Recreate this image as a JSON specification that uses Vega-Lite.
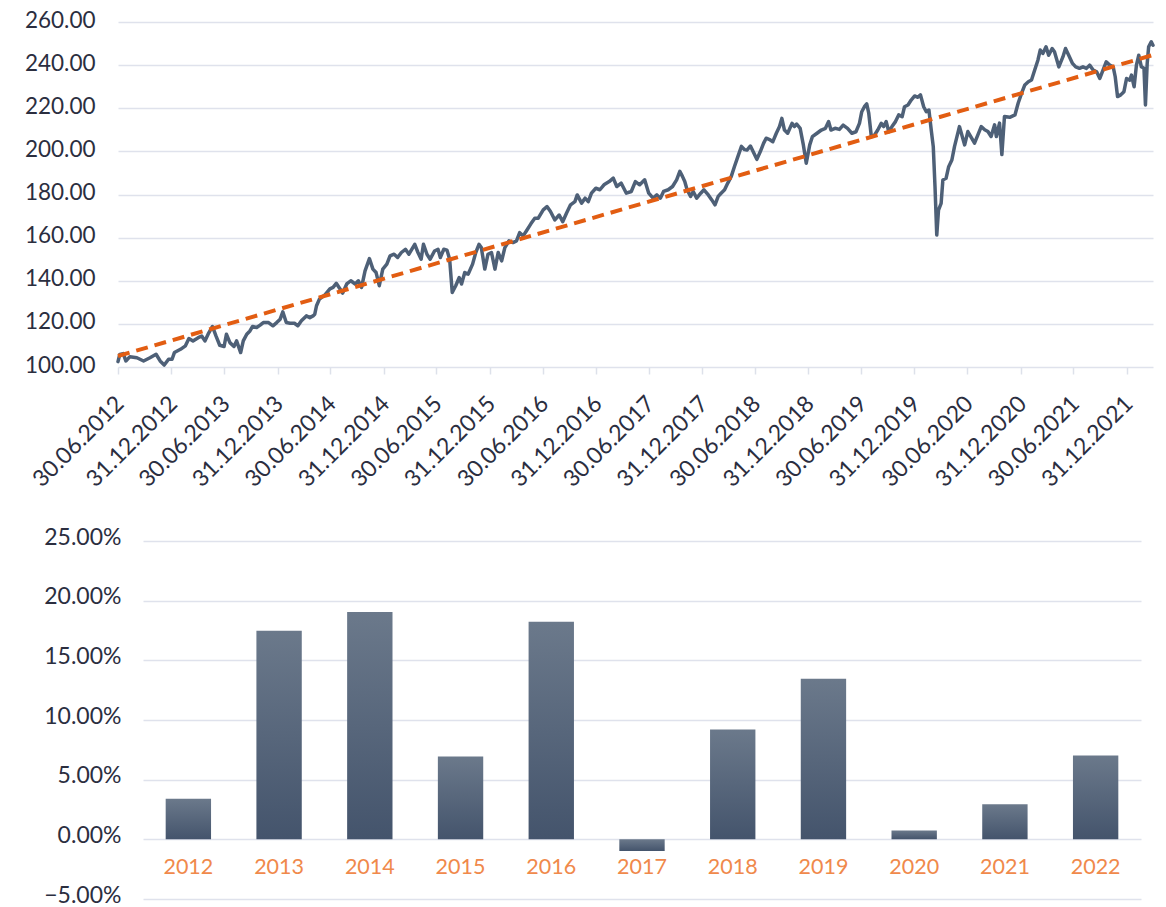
{
  "$schema": "https://vega.github.io/schema/vega-lite/v6.json",
  "background": "white",
  "padding": {"left": 7, "top": 9, "right": 13, "bottom": 5},
  "config": {"view": {"stroke": null}, "font": "Lato"},
  "spacing": 34,
  "datasets": {
    "series": [
      {"d":"2012-06-30T00:00:00","v":102.5},{"d":"2012-07-06T00:00:00","v":105.8},{"d":"2012-07-18T00:00:00","v":106.2},{"d":"2012-07-27T00:00:00","v":102.8},{"d":"2012-08-10T00:00:00","v":104.8},{"d":"2012-09-03T00:00:00","v":104.3},{"d":"2012-09-26T00:00:00","v":102.8},{"d":"2012-10-18T00:00:00","v":104.3},{"d":"2012-11-08T00:00:00","v":105.9},{"d":"2012-11-22T00:00:00","v":102.8},{"d":"2012-12-06T00:00:00","v":100.9},{"d":"2012-12-21T00:00:00","v":103.6},
      {"d":"2013-01-02T00:00:00","v":103.6},{"d":"2013-01-10T00:00:00","v":106.7},{"d":"2013-01-31T00:00:00","v":108.2},{"d":"2013-02-17T00:00:00","v":109.8},{"d":"2013-03-01T00:00:00","v":113.2},{"d":"2013-03-15T00:00:00","v":112.1},{"d":"2013-04-02T00:00:00","v":113.6},{"d":"2013-04-14T00:00:00","v":114.4},{"d":"2013-04-25T00:00:00","v":112.1},{"d":"2013-05-06T00:00:00","v":115.2},{"d":"2013-05-21T00:00:00","v":118.8},{"d":"2013-06-02T00:00:00","v":114.4},{"d":"2013-06-15T00:00:00","v":110.1},{"d":"2013-06-30T00:00:00","v":109.5},{"d":"2013-07-08T00:00:00","v":115.2},{"d":"2013-07-20T00:00:00","v":111.3},{"d":"2013-08-03T00:00:00","v":109.5},{"d":"2013-08-12T00:00:00","v":112.1},{"d":"2013-08-26T00:00:00","v":106.7},{"d":"2013-09-04T00:00:00","v":112.1},{"d":"2013-09-16T00:00:00","v":115.2},{"d":"2013-09-27T00:00:00","v":116.7},{"d":"2013-10-06T00:00:00","v":118.8},{"d":"2013-10-20T00:00:00","v":118.3},{"d":"2013-11-01T00:00:00","v":119.4},{"d":"2013-11-12T00:00:00","v":120.6},{"d":"2013-11-30T00:00:00","v":120.6},{"d":"2013-12-15T00:00:00","v":119.1},{"d":"2013-12-28T00:00:00","v":120.6},
      {"d":"2014-01-09T00:00:00","v":122.2},{"d":"2014-01-18T00:00:00","v":125.6},{"d":"2014-01-30T00:00:00","v":120.6},{"d":"2014-02-12T00:00:00","v":120.3},{"d":"2014-02-27T00:00:00","v":120.3},{"d":"2014-03-11T00:00:00","v":119.1},{"d":"2014-03-23T00:00:00","v":121.4},{"d":"2014-04-09T00:00:00","v":123.7},{"d":"2014-04-21T00:00:00","v":122.9},{"d":"2014-05-02T00:00:00","v":123.7},{"d":"2014-05-08T00:00:00","v":124.5},{"d":"2014-05-14T00:00:00","v":128.4},{"d":"2014-05-24T00:00:00","v":131.5},{"d":"2014-06-12T00:00:00","v":133.5},{"d":"2014-06-29T00:00:00","v":136.2},{"d":"2014-07-10T00:00:00","v":136.9},{"d":"2014-07-21T00:00:00","v":138.8},{"d":"2014-08-03T00:00:00","v":136.2},{"d":"2014-08-12T00:00:00","v":134.3},{"d":"2014-08-26T00:00:00","v":138.5},{"d":"2014-09-09T00:00:00","v":140},{"d":"2014-09-24T00:00:00","v":138.5},{"d":"2014-10-05T00:00:00","v":140},{"d":"2014-10-16T00:00:00","v":136.9},{"d":"2014-10-28T00:00:00","v":144.6},{"d":"2014-11-12T00:00:00","v":150.3},{"d":"2014-11-24T00:00:00","v":145.4},{"d":"2014-12-05T00:00:00","v":143.8},{"d":"2014-12-16T00:00:00","v":137.7},{"d":"2014-12-28T00:00:00","v":145.4},
      {"d":"2015-01-11T00:00:00","v":147.7},{"d":"2015-01-22T00:00:00","v":151.5},{"d":"2015-02-05T00:00:00","v":152.3},{"d":"2015-02-17T00:00:00","v":150.8},{"d":"2015-03-02T00:00:00","v":153.1},{"d":"2015-03-16T00:00:00","v":154.6},{"d":"2015-03-28T00:00:00","v":152.3},{"d":"2015-04-17T00:00:00","v":156.9},{"d":"2015-04-28T00:00:00","v":153.1},{"d":"2015-05-09T00:00:00","v":150},{"d":"2015-05-17T00:00:00","v":156.9},{"d":"2015-05-29T00:00:00","v":152.3},{"d":"2015-06-09T00:00:00","v":150},{"d":"2015-06-24T00:00:00","v":153.8},{"d":"2015-07-06T00:00:00","v":154.6},{"d":"2015-07-14T00:00:00","v":150.8},{"d":"2015-07-26T00:00:00","v":154.6},{"d":"2015-08-06T00:00:00","v":154.2},{"d":"2015-08-15T00:00:00","v":150},{"d":"2015-08-24T00:00:00","v":134.6},{"d":"2015-09-05T00:00:00","v":137.7},{"d":"2015-09-17T00:00:00","v":141.5},{"d":"2015-09-25T00:00:00","v":138.5},{"d":"2015-10-06T00:00:00","v":143.8},{"d":"2015-10-18T00:00:00","v":143.1},{"d":"2015-11-02T00:00:00","v":147.7},{"d":"2015-11-13T00:00:00","v":153.1},{"d":"2015-11-24T00:00:00","v":156.9},{"d":"2015-12-02T00:00:00","v":155.4},{"d":"2015-12-14T00:00:00","v":145.4},{"d":"2015-12-25T00:00:00","v":152.3},
      {"d":"2016-01-06T00:00:00","v":153.1},{"d":"2016-01-18T00:00:00","v":145.4},{"d":"2016-01-29T00:00:00","v":153.1},{"d":"2016-02-10T00:00:00","v":149.2},{"d":"2016-02-21T00:00:00","v":155.4},{"d":"2016-03-06T00:00:00","v":158.5},{"d":"2016-03-20T00:00:00","v":157.7},{"d":"2016-04-01T00:00:00","v":158.5},{"d":"2016-04-12T00:00:00","v":162.3},{"d":"2016-04-24T00:00:00","v":160.8},{"d":"2016-05-05T00:00:00","v":163.1},{"d":"2016-05-21T00:00:00","v":166.5},{"d":"2016-06-03T00:00:00","v":169},{"d":"2016-06-15T00:00:00","v":169},{"d":"2016-07-02T00:00:00","v":172.9},{"d":"2016-07-15T00:00:00","v":174.4},{"d":"2016-07-27T00:00:00","v":172.1},{"d":"2016-08-11T00:00:00","v":168.2},{"d":"2016-08-26T00:00:00","v":170.5},{"d":"2016-09-07T00:00:00","v":167.4},{"d":"2016-09-20T00:00:00","v":171.3},{"d":"2016-10-04T00:00:00","v":175.2},{"d":"2016-10-19T00:00:00","v":176.7},{"d":"2016-10-27T00:00:00","v":179.8},{"d":"2016-11-11T00:00:00","v":176},{"d":"2016-11-23T00:00:00","v":178.3},{"d":"2016-12-04T00:00:00","v":176.7},{"d":"2016-12-15T00:00:00","v":180.6},{"d":"2016-12-30T00:00:00","v":182.9},
      {"d":"2017-01-13T00:00:00","v":182.2},{"d":"2017-01-27T00:00:00","v":184.5},{"d":"2017-02-14T00:00:00","v":186},{"d":"2017-02-28T00:00:00","v":187.6},{"d":"2017-03-12T00:00:00","v":183.7},{"d":"2017-03-27T00:00:00","v":185.3},{"d":"2017-04-14T00:00:00","v":180.6},{"d":"2017-05-01T00:00:00","v":181.4},{"d":"2017-05-15T00:00:00","v":186},{"d":"2017-05-30T00:00:00","v":184.5},{"d":"2017-06-16T00:00:00","v":186.8},{"d":"2017-06-30T00:00:00","v":180.6},{"d":"2017-07-15T00:00:00","v":178.3},{"d":"2017-07-28T00:00:00","v":179.8},{"d":"2017-08-09T00:00:00","v":178.3},{"d":"2017-08-20T00:00:00","v":181.4},{"d":"2017-09-05T00:00:00","v":182.2},{"d":"2017-09-20T00:00:00","v":183.7},{"d":"2017-10-04T00:00:00","v":186.8},{"d":"2017-10-15T00:00:00","v":190.7},{"d":"2017-10-24T00:00:00","v":188.4},{"d":"2017-11-01T00:00:00","v":186},{"d":"2017-11-09T00:00:00","v":182.2},{"d":"2017-11-21T00:00:00","v":179.1},{"d":"2017-11-30T00:00:00","v":181.4},{"d":"2017-12-12T00:00:00","v":178.3},{"d":"2017-12-26T00:00:00","v":180.6},
      {"d":"2018-01-06T00:00:00","v":182.2},{"d":"2018-01-21T00:00:00","v":179.8},{"d":"2018-02-02T00:00:00","v":177.5},{"d":"2018-02-13T00:00:00","v":175.2},{"d":"2018-02-24T00:00:00","v":179.1},{"d":"2018-03-06T00:00:00","v":180.6},{"d":"2018-03-18T00:00:00","v":182.2},{"d":"2018-03-29T00:00:00","v":185.3},{"d":"2018-04-10T00:00:00","v":188.4},{"d":"2018-04-21T00:00:00","v":193},{"d":"2018-05-03T00:00:00","v":197.7},{"d":"2018-05-15T00:00:00","v":202.3},{"d":"2018-05-26T00:00:00","v":200.8},{"d":"2018-06-03T00:00:00","v":200.6},{"d":"2018-06-15T00:00:00","v":202.5},{"d":"2018-06-27T00:00:00","v":199.1},{"d":"2018-07-07T00:00:00","v":196.3},{"d":"2018-07-19T00:00:00","v":199.9},{"d":"2018-07-30T00:00:00","v":203.7},{"d":"2018-08-08T00:00:00","v":206.1},{"d":"2018-08-22T00:00:00","v":205.3},{"d":"2018-08-31T00:00:00","v":204.5},{"d":"2018-09-12T00:00:00","v":208.4},{"d":"2018-09-23T00:00:00","v":211.5},{"d":"2018-10-01T00:00:00","v":215.3},{"d":"2018-10-10T00:00:00","v":209.9},{"d":"2018-10-21T00:00:00","v":208.4},{"d":"2018-11-05T00:00:00","v":213},{"d":"2018-11-13T00:00:00","v":211.5},{"d":"2018-11-21T00:00:00","v":212.7},{"d":"2018-12-03T00:00:00","v":210.7},{"d":"2018-12-14T00:00:00","v":203},{"d":"2018-12-24T00:00:00","v":194.5},
      {"d":"2019-01-05T00:00:00","v":203},{"d":"2019-01-14T00:00:00","v":206.8},{"d":"2019-01-30T00:00:00","v":208.4},{"d":"2019-02-14T00:00:00","v":209.9},{"d":"2019-02-28T00:00:00","v":210.7},{"d":"2019-03-11T00:00:00","v":213.8},{"d":"2019-03-19T00:00:00","v":209.9},{"d":"2019-04-02T00:00:00","v":210.7},{"d":"2019-04-17T00:00:00","v":210.2},{"d":"2019-04-30T00:00:00","v":212.2},{"d":"2019-05-15T00:00:00","v":210.7},{"d":"2019-05-30T00:00:00","v":208.4},{"d":"2019-06-13T00:00:00","v":209.1},{"d":"2019-06-25T00:00:00","v":213},{"d":"2019-07-03T00:00:00","v":218.4},{"d":"2019-07-12T00:00:00","v":220.7},{"d":"2019-07-20T00:00:00","v":222},{"d":"2019-07-27T00:00:00","v":217.7},{"d":"2019-08-05T00:00:00","v":206.8},{"d":"2019-08-16T00:00:00","v":207.6},{"d":"2019-08-27T00:00:00","v":209.9},{"d":"2019-09-08T00:00:00","v":213},{"d":"2019-09-16T00:00:00","v":211.5},{"d":"2019-09-25T00:00:00","v":213.8},{"d":"2019-10-04T00:00:00","v":209.1},{"d":"2019-10-15T00:00:00","v":211.5},{"d":"2019-10-27T00:00:00","v":213.8},{"d":"2019-11-07T00:00:00","v":216.9},{"d":"2019-11-19T00:00:00","v":216.1},{"d":"2019-11-27T00:00:00","v":220.7},{"d":"2019-12-09T00:00:00","v":221.5},{"d":"2019-12-20T00:00:00","v":223.8},
      {"d":"2020-01-01T00:00:00","v":225.7},{"d":"2020-01-12T00:00:00","v":225.1},{"d":"2020-01-21T00:00:00","v":226.2},{"d":"2020-02-01T00:00:00","v":220.7},{"d":"2020-02-10T00:00:00","v":218.4},{"d":"2020-02-19T00:00:00","v":219.2},{"d":"2020-02-27T00:00:00","v":209.9},{"d":"2020-03-05T00:00:00","v":202.2},{"d":"2020-03-11T00:00:00","v":183.6},{"d":"2020-03-17T00:00:00","v":161.2},{"d":"2020-03-23T00:00:00","v":172.8},{"d":"2020-04-01T00:00:00","v":175.9},{"d":"2020-04-07T00:00:00","v":186.7},{"d":"2020-04-18T00:00:00","v":187.5},{"d":"2020-04-27T00:00:00","v":192.9},{"d":"2020-05-08T00:00:00","v":196},{"d":"2020-05-17T00:00:00","v":202.2},{"d":"2020-06-03T00:00:00","v":211.5},{"d":"2020-06-21T00:00:00","v":203},{"d":"2020-07-02T00:00:00","v":209.2},{"d":"2020-07-25T00:00:00","v":203.8},{"d":"2020-08-17T00:00:00","v":211.5},{"d":"2020-08-29T00:00:00","v":210},{"d":"2020-09-09T00:00:00","v":209.2},{"d":"2020-09-20T00:00:00","v":206.9},{"d":"2020-10-02T00:00:00","v":212.3},{"d":"2020-10-08T00:00:00","v":206.9},{"d":"2020-10-19T00:00:00","v":213.1},{"d":"2020-10-27T00:00:00","v":198.5},{"d":"2020-11-05T00:00:00","v":216.2},{"d":"2020-11-23T00:00:00","v":215.8},{"d":"2020-12-11T00:00:00","v":216.9},{"d":"2020-12-22T00:00:00","v":222.3},
      {"d":"2021-01-03T00:00:00","v":227},{"d":"2021-01-14T00:00:00","v":230.8},{"d":"2021-01-26T00:00:00","v":232.3},{"d":"2021-02-06T00:00:00","v":233.1},{"d":"2021-02-17T00:00:00","v":237.7},{"d":"2021-02-28T00:00:00","v":242.3},{"d":"2021-03-08T00:00:00","v":247},{"d":"2021-03-17T00:00:00","v":245.4},{"d":"2021-03-28T00:00:00","v":248.5},{"d":"2021-04-06T00:00:00","v":244.6},{"d":"2021-04-18T00:00:00","v":247.7},{"d":"2021-04-26T00:00:00","v":246.2},{"d":"2021-05-11T00:00:00","v":239.2},{"d":"2021-05-25T00:00:00","v":243.8},{"d":"2021-06-03T00:00:00","v":247.7},{"d":"2021-06-14T00:00:00","v":244.6},{"d":"2021-06-27T00:00:00","v":240.8},{"d":"2021-07-08T00:00:00","v":239.2},{"d":"2021-07-21T00:00:00","v":238.5},{"d":"2021-08-02T00:00:00","v":239.2},{"d":"2021-08-14T00:00:00","v":238.5},{"d":"2021-08-25T00:00:00","v":240},{"d":"2021-09-06T00:00:00","v":237.7},{"d":"2021-09-18T00:00:00","v":236.9},{"d":"2021-09-29T00:00:00","v":233.8},{"d":"2021-10-10T00:00:00","v":237.7},{"d":"2021-10-21T00:00:00","v":241.5},{"d":"2021-11-02T00:00:00","v":240},{"d":"2021-11-14T00:00:00","v":239.2},{"d":"2021-11-21T00:00:00","v":234.6},{"d":"2021-11-29T00:00:00","v":225.4},{"d":"2021-12-10T00:00:00","v":226.2},{"d":"2021-12-21T00:00:00","v":227.7},{"d":"2021-12-30T00:00:00","v":233.8},
      {"d":"2022-01-10T00:00:00","v":233},{"d":"2022-01-16T00:00:00","v":235.4},{"d":"2022-01-25T00:00:00","v":230},{"d":"2022-02-02T00:00:00","v":240},{"d":"2022-02-10T00:00:00","v":244.6},{"d":"2022-02-19T00:00:00","v":239.2},{"d":"2022-02-28T00:00:00","v":238.5},{"d":"2022-03-05T00:00:00","v":221.5},{"d":"2022-03-11T00:00:00","v":240.8},{"d":"2022-03-16T00:00:00","v":248.5},{"d":"2022-03-25T00:00:00","v":250.8},{"d":"2022-03-31T00:00:00","v":249.2}
    ],
    "trend": [
      {"d":"2012-06-30T00:00:00","v":105.1},
      {"d":"2022-03-31T00:00:00","v":244.7}
    ],
    "returns": [
      {"year":"2012","r":0.034},{"year":"2013","r":0.1747},{"year":"2014","r":0.1906},{"year":"2015","r":0.0694},{"year":"2016","r":0.1823},{"year":"2017","r":-0.0098},{"year":"2018","r":0.092},{"year":"2019","r":0.1346},{"year":"2020","r":0.0075},{"year":"2021","r":0.0293},{"year":"2022","r":0.0702}
    ],
    "empty": []
  },
  "vconcat": [
    {
      "spacing": 0,
      "hconcat": [
        {"width": 1, "height": 1, "data": {"name": "empty"}, "mark": "rect", "encoding": {}},
        {
          "width": 1035,
          "height": 345,
          "layer": [
            {
              "data": {"name": "series"},
              "mark": {"type": "line", "stroke": "#4e6077", "strokeWidth": 3.5, "strokeJoin": "round", "strokeCap": "round"},
              "encoding": {
                "x": {
                  "field": "d", "type": "temporal",
                  "scale": {"nice": false, "domain": [{"year": 2012, "month": 6, "date": 30}, {"year": 2022, "month": 3, "date": 31}]},
                  "axis": {
                    "title": null,
                    "values": [
                      {"year": 2012, "month": 6, "date": 30}, {"year": 2012, "month": 12, "date": 31},
                      {"year": 2013, "month": 6, "date": 30}, {"year": 2013, "month": 12, "date": 31},
                      {"year": 2014, "month": 6, "date": 30}, {"year": 2014, "month": 12, "date": 31},
                      {"year": 2015, "month": 6, "date": 30}, {"year": 2015, "month": 12, "date": 31},
                      {"year": 2016, "month": 6, "date": 30}, {"year": 2016, "month": 12, "date": 31},
                      {"year": 2017, "month": 6, "date": 30}, {"year": 2017, "month": 12, "date": 31},
                      {"year": 2018, "month": 6, "date": 30}, {"year": 2018, "month": 12, "date": 31},
                      {"year": 2019, "month": 6, "date": 30}, {"year": 2019, "month": 12, "date": 31},
                      {"year": 2020, "month": 6, "date": 30}, {"year": 2020, "month": 12, "date": 31},
                      {"year": 2021, "month": 6, "date": 30}, {"year": 2021, "month": 12, "date": 31}
                    ],
                    "format": "%d.%m.%Y",
                    "labelAngle": -45, "labelFontSize": 23, "labelColor": "#2b2e3f", "labelPadding": 18, "labelOffset": -6,
                    "labelOverlap": false, "labelFlush": false, "labelBound": false,
                    "domain": false, "grid": false,
                    "ticks": true, "tickSize": 7, "tickColor": "#dde1ea", "tickWidth": 1.5
                  }
                },
                "y": {
                  "field": "v", "type": "quantitative",
                  "scale": {"domain": [100, 260], "nice": false, "zero": false},
                  "axis": {
                    "title": " ", "titleFontSize": 10, "titlePadding": 0, "minExtent": 100, "maxExtent": 100,
                    "values": [100, 120, 140, 160, 180, 200, 220, 240, 260],
                    "format": ".2f", "labelFontSize": 22.5, "labelColor": "#2b2e3f", "labelPadding": 23, "labelOffset": -2,
                    "ticks": false, "domain": false, "gridColor": "#dfe2ec", "gridWidth": 1.5
                  }
                }
              }
            },
            {
              "data": {"name": "trend"},
              "mark": {"type": "line", "stroke": "#e25d12", "strokeWidth": 4, "strokeDash": [12, 7]},
              "encoding": {
                "x": {"field": "d", "type": "temporal"},
                "y": {"field": "v", "type": "quantitative"}
              }
            }
          ]
        }
      ]
    },
    {
      "spacing": 0,
      "hconcat": [
        {"width": 1, "height": 1, "data": {"name": "empty"}, "mark": "rect", "encoding": {}},
        {
          "width": 998,
          "height": 358,
          "data": {"name": "returns"},
          "mark": {
            "type": "bar",
            "color": {"gradient": "linear", "x1": 0, "y1": 0, "x2": 0, "y2": 1, "stops": [{"offset": 0, "color": "#6b798b"}, {"offset": 1, "color": "#44546c"}]}
          },
          "encoding": {
            "x": {
              "field": "year", "type": "ordinal",
              "scale": {"paddingInner": 0.5, "paddingOuter": 0.25},
              "axis": {"title": null, "offset": -59.67, "labelColor": "#f0894b", "labelFontSize": 21.5, "labelPadding": 17, "labelAngle": 0, "ticks": false, "domain": false}
            },
            "y": {
              "field": "r", "type": "quantitative",
              "scale": {"domain": [-0.05, 0.25], "nice": false},
              "axis": {
                "title": " ", "titleFontSize": 10, "titlePadding": 0, "minExtent": 125, "maxExtent": 125,
                "values": [-0.05, 0, 0.05, 0.1, 0.15, 0.2, 0.25],
                "format": ".2%", "labelFontSize": 23, "labelColor": "#2b2e3f", "labelPadding": 22, "labelOffset": -4,
                "ticks": false, "domain": false, "gridColor": "#dfe2ec", "gridWidth": 1.5
              }
            }
          }
        }
      ]
    }
  ]
}
